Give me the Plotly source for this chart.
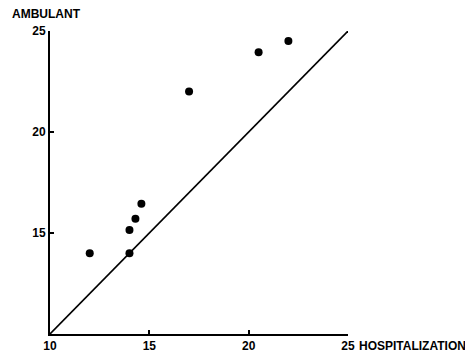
import plotly.graph_objects as go

hosp = [12.0, 14.0, 14.0, 14.3, 14.6, 17.0, 20.5, 22.0]
ambul = [14.0, 14.0, 15.15, 15.7, 16.45, 22.0, 23.95, 24.5]
identity = [10, 25]
x_ticks = [10, 15, 20, 25]
y_ticks = [15, 20, 25]

FONT = "Liberation Sans"
tf = dict(family=FONT, size=12, color="black")

fig = go.Figure()
fig.add_trace(go.Scatter(x=identity, y=identity, mode="lines",
                         line=dict(color="black", width=1.6),
                         hoverinfo="skip", showlegend=False))
fig.add_trace(go.Scatter(x=hosp, y=ambul, mode="markers",
                         marker=dict(color="black", size=8, symbol="circle"),
                         showlegend=False))

fig.update_layout(
    width=473, height=356,
    margin=dict(l=42, r=133, t=23, b=30),
    paper_bgcolor="white", plot_bgcolor="white",
    font=dict(family=FONT, size=12, color="black"),
    xaxis=dict(range=[10, 25], tickvals=x_ticks,
               ticktext=["<b>%d</b>" % v for v in x_ticks],
               showgrid=False, zeroline=False, showline=True, linecolor="black",
               linewidth=2, ticks="inside", ticklen=4, tickwidth=1.5, tickcolor="black",
               tickfont=tf, ticklabelstandoff=0),
    yaxis=dict(range=[10, 25], tickvals=y_ticks,
               ticktext=["<b>%d</b>" % v for v in y_ticks],
               showgrid=False, zeroline=False, showline=True, linecolor="black",
               linewidth=2, ticks="inside", ticklen=4, tickwidth=1.5, tickcolor="black",
               tickfont=tf, ticklabelstandoff=0),
    annotations=[
        dict(text="<b>AMBULANT</b>", xref="paper", yref="paper", x=0, y=1,
             xanchor="left", yanchor="middle", xshift=-40, yshift=17,
             showarrow=False, font=tf),
        dict(text="<b>HOSPITALIZATION</b>", xref="paper", yref="paper", x=1, y=0,
             xanchor="left", yanchor="middle", xshift=9, yshift=-12,
             showarrow=False, font=tf),
    ],
)

fig.write_html("out.html")
